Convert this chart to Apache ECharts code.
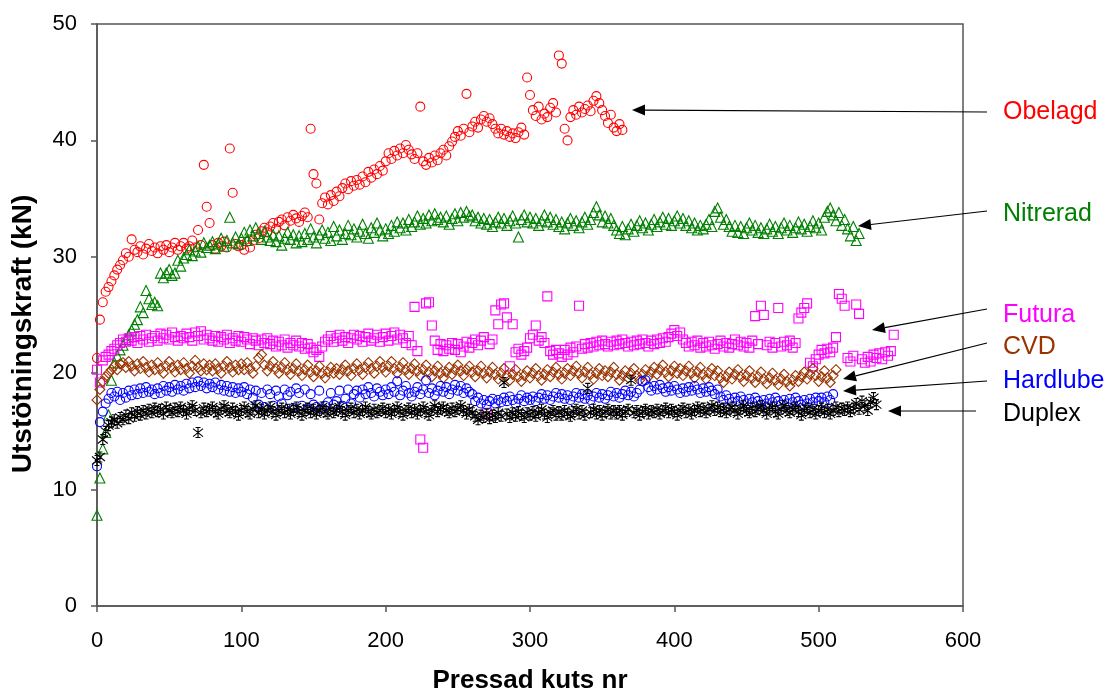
<!DOCTYPE html>
<html><head><meta charset="utf-8">
<script src="https://cdn.jsdelivr.net/npm/echarts@6/dist/echarts.min.js"></script>
<style>html,body{margin:0;padding:0;background:#fff}#c{width:1108px;height:694px}</style>
</head><body><div id="c"></div>
<script>
// Pressad kuts nr: each value below belongs to kuts nr = index * kutsStep
const kutsStep = 2;

const obelagd = [
21.3,24.6,26.1,27.0,27.4,27.9,28.4,28.9,29.3,29.7,
30.3,30.0,31.5,30.6,30.4,30.9,30.2,30.7,31.1,30.5,
30.8,30.3,30.9,30.6,31.0,30.4,30.8,31.2,30.6,30.9,
31.2,30.7,30.9,31.4,30.8,32.3,31.0,37.9,34.3,32.9,
31.0,30.7,31.2,30.9,31.3,30.8,39.3,35.5,31.1,30.9,
31.0,30.6,31.3,30.8,31.4,31.9,31.6,32.2,32.5,32.1,
32.6,32.9,32.4,33.0,33.2,32.7,33.4,33.1,33.6,33.3,
33.0,33.5,33.8,33.4,41.0,37.1,36.3,33.2,34.6,35.1,
34.5,35.3,34.8,35.6,35.2,35.9,36.3,35.8,36.5,36.1,
36.6,36.2,36.9,36.4,37.3,36.8,37.5,37.1,37.8,37.4,
38.2,38.9,38.4,39.1,38.7,39.3,38.9,39.6,39.2,38.8,
38.4,38.9,42.9,38.2,37.9,38.5,38.1,38.7,38.3,38.9,
39.2,38.7,39.5,39.9,40.3,40.8,40.4,41.0,44.0,40.7,
41.2,41.6,41.1,41.8,42.1,41.6,41.9,41.4,41.0,40.6,
41.0,40.5,40.8,40.3,40.6,40.2,40.7,41.1,40.5,45.4,
43.9,42.6,42.1,42.9,41.8,42.3,42.0,42.8,43.2,42.4,
47.3,46.6,41.0,40.0,42.0,42.6,42.2,42.9,42.4,42.7,
43.0,42.5,43.4,43.8,43.2,42.6,42.1,41.5,42.2,41.1,
40.8,41.4,40.9];

const nitrerad = [
7.8,11.0,13.5,14.9,16.4,19.4,20.9,21.5,22.0,22.4,
22.9,23.3,23.7,24.2,24.6,25.7,25.2,27.1,26.4,25.9,
26.1,25.8,28.6,28.2,28.6,28.9,28.4,28.6,29.7,29.2,
29.9,30.2,30.6,30.1,30.5,30.9,30.4,31.2,30.8,31.0,
31.3,30.7,31.1,31.6,30.9,31.4,33.4,31.2,31.7,31.1,
31.6,32.1,31.4,32.3,31.8,32.5,32.0,31.5,32.2,31.7,
31.4,31.9,31.3,31.8,31.0,31.6,32.1,31.5,31.9,31.2,
31.8,31.3,32.0,31.5,32.4,31.7,31.2,31.9,32.3,31.6,
32.1,31.4,32.6,31.8,32.3,31.5,32.0,32.7,31.9,32.4,
31.7,32.2,32.8,32.0,31.6,32.5,32.1,32.9,32.3,31.8,
32.4,32.0,32.7,32.2,33.0,32.5,32.9,32.3,33.2,32.6,
33.0,33.5,32.8,33.3,32.9,33.6,33.1,33.7,33.2,33.4,
33.0,33.5,32.8,33.3,33.7,33.1,33.8,33.4,33.9,33.5,
33.6,33.1,33.4,32.9,33.3,32.8,33.2,32.6,33.0,33.4,
32.9,33.3,32.7,33.1,33.5,32.9,31.7,33.2,33.6,33.0,
33.4,32.9,33.3,32.7,33.1,33.6,33.0,33.4,32.8,33.2,
32.6,33.0,32.4,32.9,33.3,32.7,33.1,32.5,33.0,33.4,
32.8,33.2,33.8,34.3,33.6,33.0,33.5,32.9,33.3,32.7,
32.3,32.0,32.6,31.9,32.4,32.8,32.2,32.7,33.1,32.5,
32.9,32.3,32.8,33.2,32.6,33.0,33.4,32.8,33.3,32.7,
33.1,33.5,32.9,33.3,32.7,33.1,32.5,32.9,32.3,32.7,
32.4,32.8,33.2,32.6,33.9,34.2,33.4,32.8,33.2,32.6,
32.2,32.7,32.1,32.6,32.0,32.5,32.9,32.3,32.7,32.1,
32.5,32.0,32.4,32.8,32.2,32.6,32.0,32.5,32.9,32.3,
32.7,32.1,32.5,33.0,32.4,32.8,32.2,32.6,33.1,32.5,
32.9,32.3,33.4,33.9,34.2,33.6,33.1,33.8,32.7,33.2,
32.4,31.8,32.6,31.4,32.0];

const futura = [
20.3,19.2,21.1,21.4,21.6,21.9,22.1,22.4,22.6,22.9,
22.7,23.0,22.8,23.1,22.6,23.2,22.9,23.3,22.7,23.0,
23.2,22.8,23.4,23.0,23.3,22.9,23.5,23.1,22.8,23.2,
23.0,23.4,23.1,22.8,23.5,23.2,23.6,22.9,23.3,23.0,
22.8,23.2,22.7,23.1,22.9,23.3,22.6,23.0,22.8,23.2,
22.7,23.1,22.9,22.5,23.0,22.8,22.4,22.9,22.6,23.0,
22.5,22.8,22.3,22.7,22.4,22.9,22.2,22.6,22.4,22.8,
22.3,22.6,22.1,22.5,22.2,21.8,22.0,21.4,22.3,22.7,
22.9,23.2,22.7,23.0,23.3,22.8,23.1,22.6,23.0,23.3,
22.9,23.2,22.7,23.1,23.4,22.8,23.0,23.3,22.7,23.1,
23.4,22.8,23.2,23.5,22.9,23.3,23.0,22.6,23.2,22.4,
25.7,21.9,14.3,13.6,26.0,26.1,24.1,22.8,22.0,22.5,
21.9,22.4,22.1,22.6,22.0,22.5,21.8,22.3,22.7,22.2,
22.6,22.9,22.4,22.8,23.1,16.6,22.5,22.9,25.4,24.2,
25.9,26.0,24.8,20.6,24.2,21.8,22.1,21.6,21.9,22.2,
23.0,23.3,24.1,22.8,23.1,22.6,26.6,21.9,21.6,22.0,
21.7,21.4,22.0,21.6,22.2,21.8,22.3,25.8,22.1,22.5,
22.2,22.6,22.3,22.7,22.4,22.8,22.5,22.3,22.7,22.4,
22.8,22.5,22.9,22.6,22.3,22.7,22.4,22.8,22.5,22.9,
22.6,22.3,22.8,22.5,22.9,22.6,23.0,22.7,23.1,23.4,
23.7,23.2,23.5,22.9,22.6,22.3,22.7,22.4,22.8,22.2,
22.6,22.3,22.7,22.4,22.1,22.5,22.8,22.3,22.6,22.2,
22.5,22.9,22.4,22.7,22.3,22.6,22.2,22.8,24.9,22.5,
25.8,25.0,22.4,22.7,22.2,22.6,25.6,22.3,22.7,22.4,
22.8,22.2,22.6,24.7,25.2,25.6,26.0,20.9,20.6,21.2,
21.6,22.0,21.7,22.1,21.8,22.2,23.1,26.8,26.4,25.8,
21.3,21.0,21.5,25.9,25.1,21.2,20.9,21.4,21.0,21.6,
21.3,21.7,21.2,21.8,21.5,21.9,23.3];

const cvd = [
17.7,18.6,19.3,19.7,20.0,20.3,20.6,20.3,20.8,20.9,
20.5,21.0,20.6,20.2,20.8,20.4,21.0,20.5,20.1,20.7,
20.3,20.9,20.4,20.0,20.6,21.0,20.5,20.1,20.7,20.3,
20.9,20.4,20.0,20.6,21.1,20.5,20.2,20.8,20.3,20.7,
20.2,20.8,20.4,20.0,20.6,21.0,20.5,20.1,20.7,20.3,
20.8,20.3,20.9,20.4,20.0,20.6,21.3,21.6,20.7,20.2,
20.6,21.0,20.4,20.0,20.5,20.9,20.3,19.9,20.4,20.8,
20.2,19.8,20.3,20.7,20.1,19.7,20.2,20.6,20.0,19.6,
20.1,20.5,20.0,20.4,19.9,20.3,20.7,20.2,19.8,20.4,
20.8,20.3,19.9,20.5,20.9,20.4,20.0,20.6,21.0,20.5,
20.1,20.6,21.0,20.4,20.0,20.5,20.9,20.3,19.9,20.4,
20.8,20.2,19.8,20.3,20.7,20.1,19.7,20.2,20.6,20.0,
19.6,20.1,20.5,19.9,20.3,20.7,20.2,19.8,20.3,20.6,
20.1,19.7,20.2,20.6,20.0,19.6,20.1,20.5,19.9,19.5,
20.0,20.4,19.8,19.4,19.9,20.3,19.7,19.3,19.8,20.2,
19.6,20.0,20.4,19.8,19.4,19.9,20.3,19.7,20.1,20.5,
19.9,19.5,20.0,20.4,19.8,20.2,20.6,20.0,19.6,20.1,
20.5,19.9,19.5,20.0,20.4,19.8,20.2,19.7,20.1,20.5,
19.9,19.4,19.8,20.2,19.6,20.0,20.4,19.8,19.4,19.9,
20.3,19.7,20.1,20.5,19.9,20.3,20.7,20.1,19.7,20.2,
20.6,20.0,20.4,19.8,20.2,20.6,20.0,19.6,20.1,20.5,
19.9,19.5,20.0,20.4,19.8,20.2,19.6,19.2,19.7,20.1,
19.5,19.9,20.3,19.7,19.3,19.8,20.2,19.6,19.2,19.7,
20.1,19.5,19.1,19.6,20.0,19.4,19.0,19.5,19.9,19.3,
18.9,19.4,19.8,19.3,19.7,20.1,19.5,19.9,20.4,19.8,
19.3,19.7,20.2,19.6,19.2,19.8,20.3];

const hardlube = [
12.0,15.8,16.7,17.4,17.8,18.3,18.0,18.4,17.7,18.3,
17.9,18.5,18.1,18.6,18.2,18.7,18.3,18.8,18.4,18.6,
18.2,18.7,18.3,18.9,18.5,18.8,18.4,19.0,18.6,18.9,
18.5,19.1,18.7,19.2,18.8,19.3,18.9,19.2,18.7,19.1,
18.8,19.2,18.6,19.0,18.5,18.9,18.4,18.8,18.3,18.7,
18.4,18.8,18.2,18.6,17.9,18.5,17.3,18.3,17.1,18.6,
18.2,17.2,18.5,18.0,17.4,18.6,18.1,18.4,17.0,18.7,
18.3,17.2,18.6,17.0,18.2,17.3,17.1,18.5,16.9,17.2,
17.5,18.3,17.3,17.6,18.5,17.2,17.8,18.6,17.4,18.2,
18.5,17.9,18.6,18.2,18.8,18.3,18.0,18.7,18.4,18.1,
18.6,18.2,18.8,18.4,19.3,18.1,18.5,18.9,18.3,18.0,
18.4,18.8,18.2,18.6,19.4,18.3,18.7,18.1,18.5,18.9,
18.4,18.8,18.2,18.6,19.0,18.5,18.9,18.3,18.7,18.4,
18.2,17.6,17.9,17.4,17.7,17.3,17.6,17.8,17.4,17.7,
17.5,17.9,17.6,18.0,17.7,17.4,17.8,18.1,17.6,17.9,
17.7,18.0,17.6,17.9,18.2,17.8,18.1,17.7,18.0,18.3,
17.9,18.2,17.8,18.1,17.7,18.0,18.3,17.9,18.2,17.8,
18.1,17.7,18.0,18.3,17.9,18.2,17.8,18.1,18.4,18.0,
18.3,17.9,18.2,18.5,18.1,18.4,18.0,18.3,18.6,19.3,
19.4,18.8,18.5,18.9,18.6,19.0,18.7,18.4,18.8,18.5,
18.9,18.6,18.3,18.7,18.4,18.8,18.5,18.9,18.6,18.3,
18.7,18.4,18.8,18.5,18.2,18.6,18.0,17.7,18.1,17.8,
17.5,17.9,17.6,18.0,17.7,17.4,17.8,17.5,17.9,17.6,
17.3,17.7,17.4,17.8,17.5,17.9,17.6,17.3,17.7,17.4,
17.8,17.5,17.9,17.6,17.3,17.7,17.4,17.8,17.5,17.9,
17.6,17.9,17.5,18.0,17.7,18.2];

const duplex = [
12.5,12.8,14.3,15.0,15.5,15.8,16.0,15.7,16.2,16.0,
16.4,16.1,16.6,16.3,16.7,16.4,16.8,16.5,16.9,16.6,
17.0,16.7,16.9,16.5,17.1,16.8,16.6,17.0,16.7,17.1,
16.8,16.5,16.9,17.2,16.8,14.9,16.6,17.0,16.7,16.9,
17.1,16.7,16.5,16.9,17.2,16.8,16.6,17.0,16.7,16.4,
16.8,17.1,16.7,16.5,16.9,17.2,16.6,16.9,16.5,16.8,
17.1,16.7,16.4,16.8,17.0,16.6,16.9,16.5,16.8,17.1,
16.7,16.4,16.8,17.0,16.6,16.9,16.5,16.8,17.1,16.7,
16.5,16.9,16.6,16.8,17.1,16.7,16.4,16.8,17.0,16.6,
16.9,16.5,16.8,17.1,16.7,16.5,16.9,16.6,16.8,17.0,
16.6,16.9,16.5,16.8,17.1,16.7,16.4,16.8,17.0,16.6,
16.9,16.5,16.8,17.1,16.7,16.4,16.8,17.2,16.7,16.9,
17.1,16.8,16.6,17.0,16.7,16.9,17.2,16.8,16.5,16.9,
16.6,16.3,16.0,16.4,16.2,16.5,16.1,16.4,16.2,16.6,
16.3,19.2,16.5,16.2,16.6,16.3,16.7,16.4,16.2,16.6,
16.4,16.7,16.3,16.6,16.9,16.5,16.2,16.6,16.8,16.4,
16.7,16.4,16.8,16.5,16.3,16.7,16.9,16.5,16.8,16.4,
18.7,16.6,16.9,16.5,16.8,16.4,16.7,16.9,16.5,16.8,
16.5,16.8,16.4,16.7,16.9,19.4,16.6,16.8,16.4,16.7,
16.9,16.5,16.8,16.6,16.9,16.5,16.8,17.0,16.6,16.9,
16.7,16.4,16.8,17.0,16.6,16.9,16.5,16.8,17.1,16.7,
17.0,16.6,16.9,17.2,16.8,17.1,16.7,17.0,16.6,16.9,
17.1,16.8,16.5,16.9,17.2,16.8,16.6,17.0,16.7,16.9,
17.2,16.8,16.5,16.9,17.1,16.7,16.5,16.9,17.2,16.8,
16.6,16.9,17.1,16.7,16.4,16.8,17.0,16.6,16.9,16.5,
16.8,17.0,16.6,16.9,16.5,16.8,17.1,16.7,17.0,16.8,
17.1,16.7,17.0,17.4,16.9,17.6,17.2,16.8,17.5,17.9,
17.3];

const xTicks = { min: 0, max: 600, interval: 100 };
const yTicks = { min: 0, max: 50, interval: 10 };
const xTitle = 'Pressad kuts nr';
const yTitle = 'Utstötningskraft (kN)';

const FONT = '"Liberation Sans", Arial, Helvetica, sans-serif';
const starPath = 'path://M0,-5L0,5M-4,-4L4,4M-4,4L4,-4M-2,-5L2,-5M-2,5L2,5';

const seriesDefs = [
  { name: 'Obelagd',  data: obelagd,  color: '#FF0000', symbol: 'circle',   size: 9 },
  { name: 'Nitrerad', data: nitrerad, color: '#008000', symbol: 'triangle', size: 10 },
  { name: 'Futura',   data: futura,   color: '#FF00FF', symbol: 'rect',     size: 9 },
  { name: 'CVD',      data: cvd,      color: '#993300', symbol: 'diamond',  size: 10 },
  { name: 'Hardlube', data: hardlube, color: '#0000FF', symbol: 'circle',   size: 9 },
  { name: 'Duplex',   data: duplex,   color: '#000000', symbol: starPath,   size: 10 }
];

// annotation layout (pixels): label position and arrow from (x1,y1) to tip (x2,y2)
const annotations = [
  { name: 'Obelagd',  color: '#FF0000', lx: 1003, ly: 112, x1: 987, y1: 112, x2: 632, y2: 110 },
  { name: 'Nitrerad', color: '#008000', lx: 1003, ly: 214, x1: 987, y1: 211, x2: 858, y2: 226 },
  { name: 'Futura',   color: '#FF00FF', lx: 1003, ly: 315, x1: 987, y1: 309, x2: 872, y2: 330 },
  { name: 'CVD',      color: '#993300', lx: 1003, ly: 347, x1: 987, y1: 343, x2: 843, y2: 379 },
  { name: 'Hardlube', color: '#0000FF', lx: 1003, ly: 381, x1: 987, y1: 381, x2: 843, y2: 391 },
  { name: 'Duplex',   color: '#000000', lx: 1003, ly: 414, x1: 976, y1: 411, x2: 888, y2: 411 }
];

function arrow(a) {
  const dx = a.x2 - a.x1, dy = a.y2 - a.y1, L = Math.hypot(dx, dy);
  const ux = dx / L, uy = dy / L, hl = 13, hw = 5.5;
  const bx = a.x2 - ux * hl, by = a.y2 - uy * hl;
  return [
    { type: 'line', z: 100, silent: true, shape: { x1: a.x1, y1: a.y1, x2: bx, y2: by }, style: { stroke: '#000', lineWidth: 1.2 } },
    { type: 'polygon', z: 100, silent: true, shape: { points: [[a.x2, a.y2], [bx - uy * hw, by + ux * hw], [bx + uy * hw, by - ux * hw]] }, style: { fill: '#000' } }
  ];
}

const graphics = [];
annotations.forEach(a => {
  graphics.push(...arrow(a));
  graphics.push({ type: 'text', z: 100, silent: true, x: a.lx, y: a.ly,
    style: { text: a.name, fill: a.color, font: '25px ' + FONT, align: 'left', verticalAlign: 'middle' } });
});
graphics.push({ type: 'text', z: 100, silent: true, x: 23, y: 334, rotation: Math.PI / 2,
  style: { text: yTitle, fill: '#000', font: 'bold 28px ' + FONT, align: 'center', verticalAlign: 'middle' } });
graphics.push({ type: 'text', z: 100, silent: true, x: 530, y: 681,
  style: { text: xTitle, fill: '#000', font: 'bold 26px ' + FONT, align: 'center', verticalAlign: 'middle' } });

const axisCommon = {
  type: 'value',
  axisLine: { show: true, lineStyle: { color: '#555', width: 1.5 } },
  axisTick: { show: true, inside: false, length: 6, lineStyle: { color: '#555', width: 1.5 } },
  splitLine: { show: false },
  axisLabel: { color: '#000', fontSize: 22, fontFamily: FONT }
};

const chart = echarts.init(document.getElementById('c'), null, { renderer: 'canvas' });
chart.setOption({
  animation: false,
  backgroundColor: '#fff',
  grid: { left: 97, top: 24, right: 145, bottom: 88, show: true, borderColor: '#555', borderWidth: 1.5, backgroundColor: 'transparent' },
  xAxis: Object.assign({}, axisCommon, xTicks, { axisLabel: Object.assign({}, axisCommon.axisLabel, { margin: 24 }) }),
  yAxis: Object.assign({}, axisCommon, yTicks, { axisLabel: Object.assign({}, axisCommon.axisLabel, { margin: 20 }) }),
  series: seriesDefs.map(s => ({
    name: s.name,
    type: 'scatter',
    symbol: s.symbol,
    symbolSize: s.size,
    data: s.data.map((v, i) => [i * kutsStep, v]),
    itemStyle: { color: 'rgba(0,0,0,0)', borderColor: s.color, borderWidth: 1.1, opacity: 1 },
    emphasis: { disabled: true },
    progressive: 0
  })),
  graphic: graphics
});
</script>
</body></html>
